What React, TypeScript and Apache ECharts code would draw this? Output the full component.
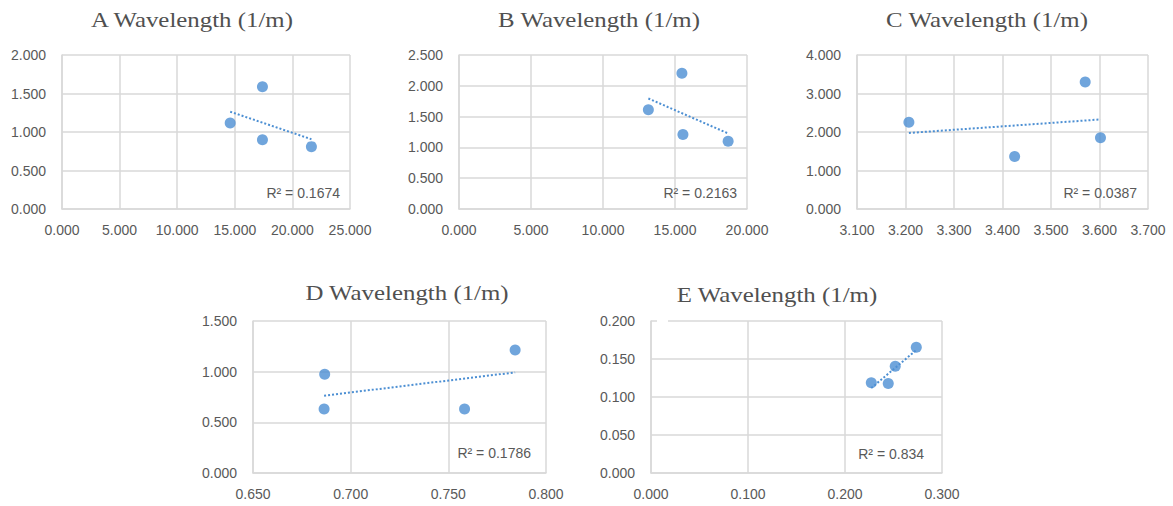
import React, { useEffect, useRef } from "react";
import * as echarts from "echarts";

// ---- data ----
const aX = [14.6, 17.4, 17.4, 21.65];
const aY = [1.118, 1.587, 0.898, 0.81];
const bX = [13.15, 15.48, 15.55, 18.69];
const bY = [1.61, 2.205, 1.21, 1.1];
const cX = [3.207, 3.425, 3.5705, 3.602];
const cY = [2.255, 1.365, 3.3, 1.848];
const dX = [0.6867, 0.6864, 0.7583, 0.7842];
const dY = [0.975, 0.632, 0.632, 1.213];
const eX = [0.2271, 0.2446, 0.2518, 0.2735];
const eY = [0.1188, 0.1178, 0.1405, 0.1655];

const titles = [
  "A Wavelength (1/m)",
  "B Wavelength (1/m)",
  "C Wavelength (1/m)",
  "D Wavelength (1/m)",
  "E Wavelength (1/m)",
];
const r2Labels = ["R² = 0.1674", "R² = 0.2163", "R² = 0.0387", "R² = 0.1786", "R² = 0.834"];

const xMins = [0, 0, 3.1, 0.65, 0];
const xMaxs = [25, 20, 3.7, 0.8, 0.3];
const xSteps = [5, 5, 0.1, 0.05, 0.1];
const yMins = [0, 0, 0, 0, 0];
const yMaxs = [2, 2.5, 4, 1.5, 0.2];
const ySteps = [0.5, 0.5, 1, 0.5, 0.05];

const panels = [
  { xs: aX, ys: aY },
  { xs: bX, ys: bY },
  { xs: cX, ys: cY },
  { xs: dX, ys: dY },
  { xs: eX, ys: eY },
];

// layout (pixels)
const grids = [
  { left: 62, top: 55, width: 288, height: 154 },
  { left: 459, top: 55, width: 288, height: 154 },
  { left: 857, top: 55, width: 291, height: 154 },
  { left: 253, top: 321, width: 293, height: 152 },
  { left: 651, top: 321, width: 291, height: 152 },
];
const titlePos = [
  [192, 20],
  [599, 20],
  [987, 20],
  [407, 293],
  [777, 295],
];
const r2Inset = [[10, 16], [10, 16], [11, 16], [15, 20], [18, 19]];

const BLUE = "#4C8FD3";
const GRID = "#d9d9d9";
const LABEL = "#595959";

function regress(xs: number[], ys: number[]) {
  const n = xs.length;
  const mx = xs.reduce((s, v) => s + v, 0) / n;
  const my = ys.reduce((s, v) => s + v, 0) / n;
  let sxy = 0;
  let sxx = 0;
  for (let i = 0; i < n; i++) {
    sxy += (xs[i] - mx) * (ys[i] - my);
    sxx += (xs[i] - mx) * (xs[i] - mx);
  }
  const k = sxy / sxx;
  const b = my - k * mx;
  const x0 = Math.min(...xs);
  const x1 = Math.max(...xs);
  return [
    [x0, k * x0 + b],
    [x1, k * x1 + b],
  ];
}

export default function App() {
  const ref = useRef<HTMLDivElement>(null);
  useEffect(() => {
    if (!ref.current) return;
    const chart = echarts.init(ref.current, null, { renderer: "svg" });
    const labelStyle = {
      color: LABEL,
      fontFamily: "Liberation Sans",
      fontSize: 14,
    };
    const option: any = {
      animation: false,
      backgroundColor: "#ffffff",
      grid: grids.map((g) => ({ ...g, containLabel: false })),
      xAxis: panels.map((_, i) => ({
        type: "value",
        gridIndex: i,
        min: xMins[i],
        max: xMaxs[i],
        interval: xSteps[i],
        axisLine: { show: true, lineStyle: { color: GRID, width: 1.5 } },
        axisTick: { show: false },
        splitLine: { show: true, lineStyle: { color: GRID, width: 1.5 } },
        axisLabel: {
          ...labelStyle,
          margin: 14,
          formatter: (v: number) => v.toFixed(3),
          showMinLabel: true,
          showMaxLabel: true,
        },
      })),
      yAxis: panels.map((_, i) => ({
        type: "value",
        gridIndex: i,
        min: yMins[i],
        max: yMaxs[i],
        interval: ySteps[i],
        axisLine: { show: true, lineStyle: { color: GRID, width: 1.5 } },
        axisTick: { show: false },
        splitLine: { show: true, lineStyle: { color: GRID, width: 1.5 } },
        axisLabel: {
          ...labelStyle,
          margin: 16,
          formatter: (v: number) => v.toFixed(3),
          showMinLabel: true,
          showMaxLabel: true,
        },
      })),
      series: panels.flatMap((p, i) => [
        {
          type: "line",
          xAxisIndex: i,
          yAxisIndex: i,
          data: regress(p.xs, p.ys),
          symbol: "none",
          lineStyle: { color: BLUE, width: 2, type: [2, 2] },
          z: 3,
        },
        {
          type: "scatter",
          xAxisIndex: i,
          yAxisIndex: i,
          data: p.xs.map((x, j) => [x, p.ys[j]]),
          symbol: "circle",
          symbolSize: 11,
          itemStyle: { color: BLUE },
          z: 4,
        },
      ]),
      graphic: [
        ...titles.map((t, i) => ({
          type: "text",
          x: titlePos[i][0],
          y: titlePos[i][1],
          scaleX: 1.13,
          style: {
            text: t,
            fill: "#505050",
            font: '22px "Liberation Serif"',
            textAlign: "center",
            textVerticalAlign: "middle",
            align: "center",
            verticalAlign: "middle",
          },
        })),
        ...r2Labels.map((t, i) => ({
          type: "text",
          x: grids[i].left + grids[i].width - r2Inset[i][0],
          y: grids[i].top + grids[i].height - r2Inset[i][1],
          style: {
            text: t,
            fill: LABEL,
            font: '14px "Liberation Sans"',
            textAlign: "right",
            textVerticalAlign: "middle",
            align: "right",
            verticalAlign: "middle",
          },
          z: 10,
        })),
        {
          type: "rect",
          shape: { x: 657, y: 318, width: 11, height: 5 },
          style: { fill: "#ffffff" },
          z: 10,
        },
      ],
    };
    chart.setOption(option);
    return () => chart.dispose();
  }, []);
  return (
    <div
      ref={ref}
      style={{ position: "absolute", left: 0, top: 0, width: 1173, height: 506 }}
    />
  );
}
